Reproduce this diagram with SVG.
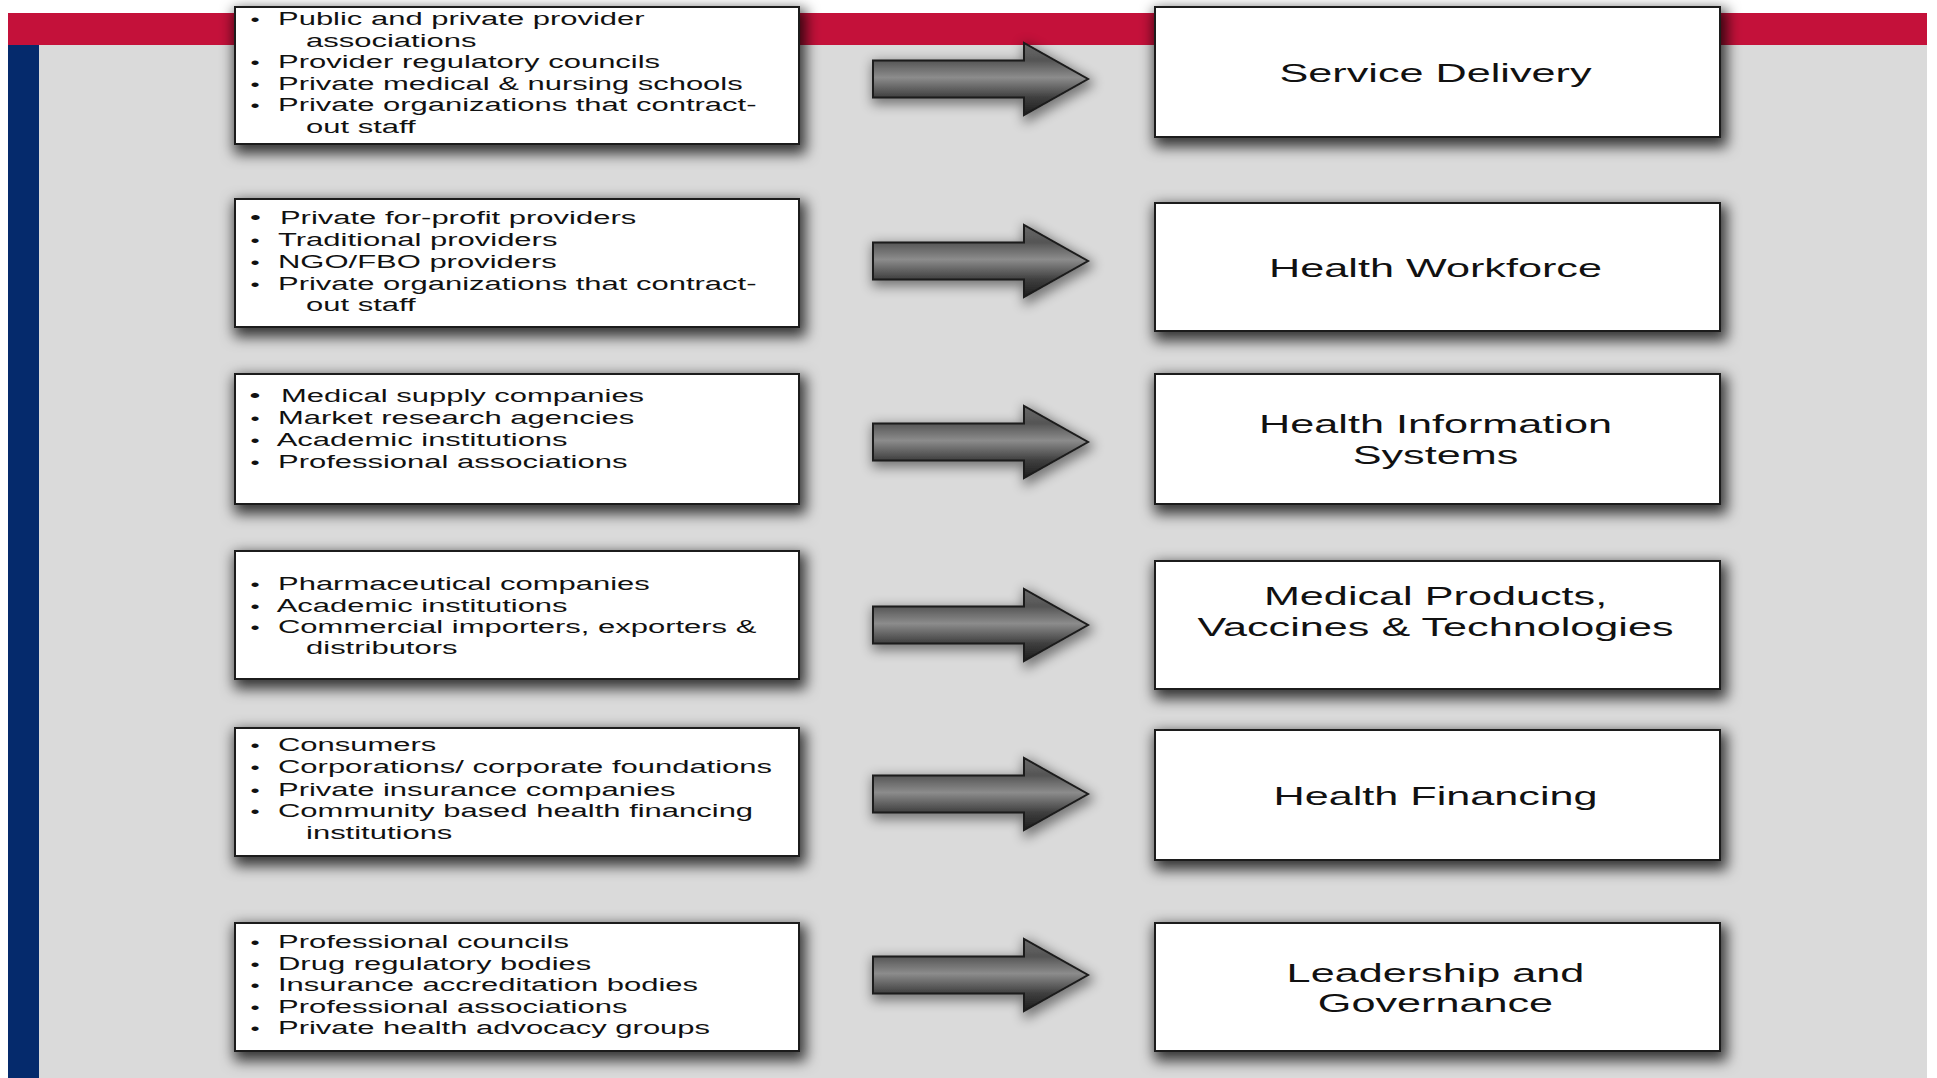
<svg xmlns="http://www.w3.org/2000/svg" xmlns:xlink="http://www.w3.org/1999/xlink" width="1937" height="1078" viewBox="0 0 1937 1078">
  <style>
    .box { fill: #ffffff; stroke: #1e1e1e; stroke-width: 2; }
    .li { font-family: "Liberation Sans", Arial, Helvetica, sans-serif; font-size: 19px; fill: #111111; }
    .li .b { font-size: 16px; }
    .title { font-family: "Liberation Sans", Arial, Helvetica, sans-serif; font-size: 26.5px; fill: #111111; text-anchor: middle; }
  </style>
  <defs>
    <filter id="boxShadow" x="-10%" y="-30%" width="122%" height="170%">
      <feMorphology in="SourceAlpha" operator="dilate" radius="3" result="grow"/>
      <feGaussianBlur in="grow" stdDeviation="7" result="blur"/>
      <feOffset in="blur" dx="3" dy="6" result="off"/>
      <feFlood flood-color="#000000" flood-opacity="0.75"/>
      <feComposite in2="off" operator="in" result="shadow"/>
      <feMerge>
        <feMergeNode in="shadow"/>
        <feMergeNode in="SourceGraphic"/>
      </feMerge>
    </filter>
    <filter id="arrowShadow" x="-20%" y="-50%" width="140%" height="200%">
      <feMorphology in="SourceAlpha" operator="dilate" radius="2" result="grow"/>
      <feGaussianBlur in="grow" stdDeviation="6" result="blur"/>
      <feOffset in="blur" dx="2" dy="4" result="off"/>
      <feFlood flood-color="#000000" flood-opacity="0.45"/>
      <feComposite in2="off" operator="in" result="shadow"/>
      <feMerge>
        <feMergeNode in="shadow"/>
        <feMergeNode in="SourceGraphic"/>
      </feMerge>
    </filter>
    <linearGradient id="arrowFill" x1="0" y1="0" x2="0" y2="1">
      <stop offset="0" stop-color="#6a6a6a"/>
      <stop offset="0.24" stop-color="#555555"/>
      <stop offset="0.48" stop-color="#8c8c8c"/>
      <stop offset="0.76" stop-color="#3e3e3e"/>
      <stop offset="1" stop-color="#1c1c1c"/>
    </linearGradient>
    <path id="arrow" d="M0,-18.5 H151 V-36 L215,0 L151,36 V18.5 H0 Z" fill="url(#arrowFill)" stroke="#1b1b1b" stroke-width="2"/>
  </defs>

  <!-- page frame -->
  <rect x="0" y="0" width="1937" height="1078" fill="#ffffff"/>
  <rect x="39" y="45" width="1888" height="1033" fill="#dadada"/>
  <rect x="8" y="13" width="1919" height="32" fill="#c4113a"/>
  <rect x="8" y="45" width="31" height="1033" fill="#052a6c"/>

  <!-- connectors -->
  <g id="connectors" filter="url(#arrowShadow)">
    <use href="#arrow" x="873" y="79"/>
    <use href="#arrow" x="873" y="261"/>
    <use href="#arrow" x="873" y="442"/>
    <use href="#arrow" x="873" y="625"/>
    <use href="#arrow" x="873" y="794"/>
    <use href="#arrow" x="873" y="975"/>
  </g>

  <!-- private sector actors -->
  <g id="actors-service">
    <rect class="box" x="235" y="7" width="564" height="137" filter="url(#boxShadow)"/>
    <g class="li" transform="translate(249 0) scale(1.63 1)">
      <text y="25"><tspan class="b" x="1">•</tspan><tspan x="17.8">Public and private provider</tspan></text>
      <text y="47"><tspan x="35">associations</tspan></text>
      <text y="68.5"><tspan class="b" x="1">•</tspan><tspan x="17.8">Provider regulatory councils</tspan></text>
      <text y="90.5"><tspan class="b" x="1">•</tspan><tspan x="17.8">Private medical &amp; nursing schools</tspan></text>
      <text y="111.5"><tspan class="b" x="1">•</tspan><tspan x="17.8">Private organizations that contract-</tspan></text>
      <text y="133.5"><tspan x="35">out staff</tspan></text>
    </g>
  </g>

  <g id="actors-workforce">
    <rect class="box" x="235" y="199" width="564" height="128" filter="url(#boxShadow)"/>
    <g class="li" transform="translate(249 0) scale(1.63 1)">
      <text y="224"><tspan x="0.6">•</tspan><tspan x="19">Private for-profit providers</tspan></text>
      <text y="246"><tspan class="b" x="1">•</tspan><tspan x="17.8">Traditional providers</tspan></text>
      <text y="268"><tspan class="b" x="1">•</tspan><tspan x="17.8">NGO/FBO providers</tspan></text>
      <text y="290.5"><tspan class="b" x="1">•</tspan><tspan x="17.8">Private organizations that contract-</tspan></text>
      <text y="311.5"><tspan x="35">out staff</tspan></text>
    </g>
  </g>

  <g id="actors-information">
    <rect class="box" x="235" y="374" width="564" height="130" filter="url(#boxShadow)"/>
    <g class="li" transform="translate(249 0) scale(1.63 1)">
      <text y="402"><tspan x="0.3">•</tspan><tspan x="19.6">Medical supply companies</tspan></text>
      <text y="424"><tspan class="b" x="1">•</tspan><tspan x="17.8">Market research agencies</tspan></text>
      <text y="446"><tspan class="b" x="1">•</tspan><tspan x="17">Academic institutions</tspan></text>
      <text y="468.5"><tspan class="b" x="1">•</tspan><tspan x="17.8">Professional associations</tspan></text>
    </g>
  </g>

  <g id="actors-products">
    <rect class="box" x="235" y="551" width="564" height="128" filter="url(#boxShadow)"/>
    <g class="li" transform="translate(249 0) scale(1.63 1)">
      <text y="590"><tspan class="b" x="1">•</tspan><tspan x="17.8">Pharmaceutical companies</tspan></text>
      <text y="612"><tspan class="b" x="1">•</tspan><tspan x="17">Academic institutions</tspan></text>
      <text y="633"><tspan class="b" x="1">•</tspan><tspan x="17.8">Commercial importers, exporters &amp;</tspan></text>
      <text y="654.5"><tspan x="35">distributors</tspan></text>
    </g>
  </g>

  <g id="actors-financing">
    <rect class="box" x="235" y="728" width="564" height="128" filter="url(#boxShadow)"/>
    <g class="li" transform="translate(249 0) scale(1.63 1)">
      <text y="751.5"><tspan class="b" x="1">•</tspan><tspan x="17.8">Consumers</tspan></text>
      <text y="773.5"><tspan class="b" x="1">•</tspan><tspan x="17.8">Corporations/ corporate foundations</tspan></text>
      <text y="796"><tspan class="b" x="1">•</tspan><tspan x="17.8">Private insurance companies</tspan></text>
      <text y="817"><tspan class="b" x="1">•</tspan><tspan x="17.8">Community based health financing</tspan></text>
      <text y="839"><tspan x="35">institutions</tspan></text>
    </g>
  </g>

  <g id="actors-governance">
    <rect class="box" x="235" y="923" width="564" height="128" filter="url(#boxShadow)"/>
    <g class="li" transform="translate(249 0) scale(1.63 1)">
      <text y="948"><tspan class="b" x="1">•</tspan><tspan x="17.8">Professional councils</tspan></text>
      <text y="970"><tspan class="b" x="1">•</tspan><tspan x="17.8">Drug regulatory bodies</tspan></text>
      <text y="991"><tspan class="b" x="1">•</tspan><tspan x="17.8">Insurance accreditation bodies</tspan></text>
      <text y="1013"><tspan class="b" x="1">•</tspan><tspan x="17.8">Professional associations</tspan></text>
      <text y="1034"><tspan class="b" x="1">•</tspan><tspan x="17.8">Private health advocacy groups</tspan></text>
    </g>
  </g>

  <!-- health system building blocks -->
  <g id="block-service-delivery">
    <rect class="box" x="1155" y="7" width="565" height="130" filter="url(#boxShadow)"/>
    <g class="title" transform="translate(1435.5 0) scale(1.63 1)">
      <text x="0" y="82">Service Delivery</text>
    </g>
  </g>

  <g id="block-health-workforce">
    <rect class="box" x="1155" y="203" width="565" height="128" filter="url(#boxShadow)"/>
    <g class="title" transform="translate(1435.5 0) scale(1.63 1)">
      <text x="0" y="277">Health Workforce</text>
    </g>
  </g>

  <g id="block-information-systems">
    <rect class="box" x="1155" y="374" width="565" height="130" filter="url(#boxShadow)"/>
    <g class="title" transform="translate(1435.5 0) scale(1.63 1)">
      <text x="0" y="433">Health Information</text>
      <text x="0" y="464">Systems</text>
    </g>
  </g>

  <g id="block-medical-products">
    <rect class="box" x="1155" y="561" width="565" height="128" filter="url(#boxShadow)"/>
    <g class="title" transform="translate(1435.5 0) scale(1.63 1)">
      <text x="0" y="605">Medical Products,</text>
      <text x="0" y="636">Vaccines &amp; Technologies</text>
    </g>
  </g>

  <g id="block-health-financing">
    <rect class="box" x="1155" y="730" width="565" height="130" filter="url(#boxShadow)"/>
    <g class="title" transform="translate(1435.5 0) scale(1.63 1)">
      <text x="0" y="805">Health Financing</text>
    </g>
  </g>

  <g id="block-leadership-governance">
    <rect class="box" x="1155" y="923" width="565" height="128" filter="url(#boxShadow)"/>
    <g class="title" transform="translate(1435.5 0) scale(1.63 1)">
      <text x="0" y="982">Leadership and</text>
      <text x="0" y="1012">Governance</text>
    </g>
  </g>
</svg>
